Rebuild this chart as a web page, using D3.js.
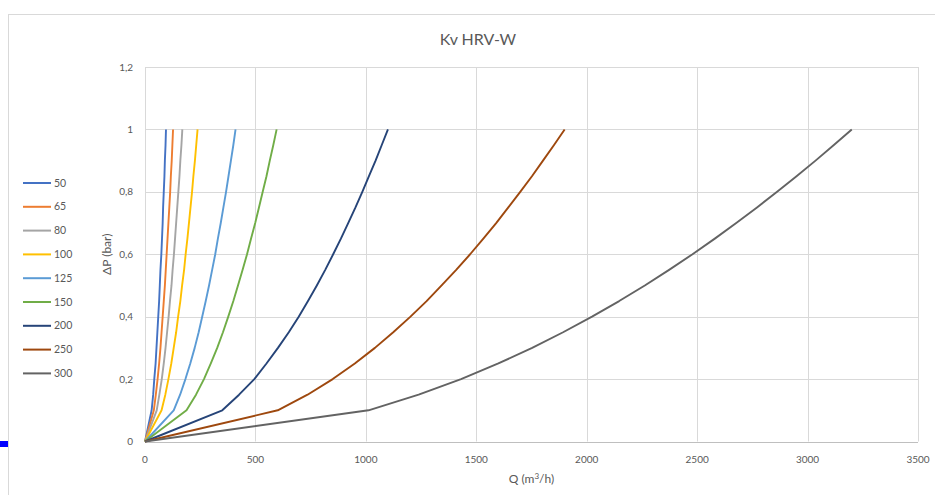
<!DOCTYPE html>
<html>
<head>
<meta charset="utf-8">
<script src="https://cdn.jsdelivr.net/npm/d3@7"></script>
<style>
  body { margin: 0; background: #fff; }
  text { font-family: Lato, "Open Sans", sans-serif; fill: #595959; }
</style>
</head>
<body>
<div id="chart-area"></div>
<script>
const W = 935, H = 495
const MARGIN = { LEFT: 145, RIGHT: 17, TOP: 67, BOTTOM: 53.5 }
const WIDTH = W - MARGIN.LEFT - MARGIN.RIGHT
const HEIGHT = H - MARGIN.TOP - MARGIN.BOTTOM

// pressure drop points (bar)
const dp = [0, 0.1, 0.15, 0.2, 0.25, 0.3, 0.35, 0.4, 0.45, 0.5, 0.55,
  0.6, 0.65, 0.7, 0.75, 0.8, 0.85, 0.9, 0.95, 1]

// flow per DN (m3/h) at each dp
const q50  = [0, 30, 37, 42, 48, 52, 56, 60, 64, 67, 70, 74, 77, 80, 82, 85, 88, 90, 93, 95]
const q65  = [0, 40, 49, 57, 64, 70, 75, 80, 85, 90, 94, 98, 102, 106, 110, 114, 117, 121, 124, 127]
const q80  = [0, 53, 65, 76, 85, 93, 100, 107, 113, 120, 125, 131, 136, 141, 146, 151, 156, 160, 165, 169]
const q100 = [0, 75, 92, 106, 119, 130, 141, 150, 160, 168, 177, 184, 192, 199, 206, 213, 219, 226, 232, 238]
const q125 = [0, 130, 159, 183, 205, 225, 243, 259, 275, 290, 304, 318, 330, 343, 355, 367, 378, 389, 400, 410]
const q150 = [0, 188, 231, 267, 298, 327, 353, 377, 400, 421, 442, 462, 480, 499, 516, 533, 550, 565, 581, 596]
const q200 = [0, 350, 426, 495, 550, 602, 651, 696, 738, 778, 816, 852, 887, 920, 953, 984, 1014, 1044, 1072, 1100]
const q250 = [0, 601, 736, 850, 950, 1041, 1124, 1202, 1275, 1343, 1409, 1472, 1532, 1590, 1645, 1699, 1752, 1802, 1852, 1900]
const q300 = [0, 1012, 1239, 1431, 1600, 1753, 1893, 2024, 2147, 2263, 2373, 2479, 2580, 2677, 2771, 2862, 2950, 3036, 3119, 3200]

const names = ["50", "65", "80", "100", "125", "150", "200", "250", "300"]
const flows = [q50, q65, q80, q100, q125, q150, q200, q250, q300]
const colors = ["#4472C4", "#ED7D31", "#A5A5A5", "#FFC000", "#5B9BD5",
  "#70AD47", "#264478", "#9E480E", "#636363"]

const xTicks = [0, 500, 1000, 1500, 2000, 2500, 3000, 3500]
const yTicks = [0, 0.2, 0.4, 0.6, 0.8, 1, 1.2]

const svg = d3.select("#chart-area").append("svg")
  .attr("width", W)
  .attr("height", H)

// chart frame
svg.append("rect")
  .attr("x", 8.5).attr("y", 14.5)
  .attr("width", W + 10).attr("height", H + 10)
  .attr("fill", "none")
  .attr("stroke", "#d9d9d9")

// little blue handle on the left edge
svg.append("rect")
  .attr("x", 0).attr("y", 441)
  .attr("width", 8).attr("height", 6)
  .attr("fill", "#0000ff")

const g = svg.append("g")
  .attr("transform", `translate(${MARGIN.LEFT}, ${MARGIN.TOP})`)

const x = d3.scaleLinear().domain([0, 3500]).range([0, WIDTH])
const y = d3.scaleLinear().domain([0, 1.2]).range([HEIGHT, 0])

// grid
g.append("g").selectAll("line")
  .data(yTicks)
  .join("line")
  .attr("x1", 0).attr("x2", WIDTH)
  .attr("y1", d => Math.round(y(d)) + 0.5)
  .attr("y2", d => Math.round(y(d)) + 0.5)
  .attr("stroke", "#d9d9d9")

g.append("g").selectAll("line")
  .data(xTicks)
  .join("line")
  .attr("x1", d => Math.round(x(d)) + 0.5)
  .attr("x2", d => Math.round(x(d)) + 0.5)
  .attr("y1", 0).attr("y2", HEIGHT)
  .attr("stroke", "#d9d9d9")

// x axis baseline
g.append("line")
  .attr("x1", 0).attr("x2", WIDTH)
  .attr("y1", Math.round(HEIGHT) + 0.5).attr("y2", Math.round(HEIGHT) + 0.5)
  .attr("stroke", "#bfbfbf")

// tick labels
const fmt = d => String(d).replace(".", ",")

g.append("g").selectAll("text")
  .data(yTicks)
  .join("text")
  .attr("x", -12)
  .attr("y", d => y(d))
  .attr("dy", "0.35em")
  .attr("text-anchor", "end")
  .attr("font-size", "10px")
  .text(fmt)

g.append("g").selectAll("text")
  .data(xTicks)
  .join("text")
  .attr("x", d => x(d))
  .attr("y", HEIGHT + 21)
  .attr("text-anchor", "middle")
  .attr("font-size", "10px")
  .text(d => d)

// titles
svg.append("text")
  .attr("x", 478)
  .attr("y", 45)
  .attr("text-anchor", "middle")
  .attr("font-size", "16px")
  .text("Kv HRV-W")

const xLabel = svg.append("text")
  .attr("x", MARGIN.LEFT + WIDTH / 2)
  .attr("y", 483)
  .attr("text-anchor", "middle")
  .attr("font-size", "12px")
xLabel.append("tspan").text("Q (m")
xLabel.append("tspan").attr("font-size", "8px").attr("dy", -4).text("3")
xLabel.append("tspan").attr("dy", 4).text("/h)")

svg.append("text")
  .attr("transform", `translate(111, ${MARGIN.TOP + HEIGHT / 2}) rotate(-90)`)
  .attr("text-anchor", "middle")
  .attr("font-size", "12px")
  .text("ΔP (bar)")

// curves
const line = d3.line()
  .x(d => x(d[0]))
  .y(d => y(d[1]))

g.append("g").selectAll("path")
  .data(flows)
  .join("path")
  .attr("d", q => line(q.map((v, i) => [v, dp[i]])))
  .attr("fill", "none")
  .attr("stroke", (q, i) => colors[i])
  .attr("stroke-width", 1.9)
  .attr("stroke-linejoin", "round")

// legend
const legend = svg.append("g")
  .attr("transform", "translate(23, 183)")

names.forEach((n, i) => {
  const row = legend.append("g")
    .attr("transform", `translate(0, ${i * 23.8})`)
  row.append("line")
    .attr("x1", 0).attr("x2", 28)
    .attr("stroke", colors[i])
    .attr("stroke-width", 2)
  row.append("text")
    .attr("x", 31)
    .attr("dy", "0.35em")
    .attr("font-size", "10.5px")
    .text(n)
})
</script>
</body>
</html>
